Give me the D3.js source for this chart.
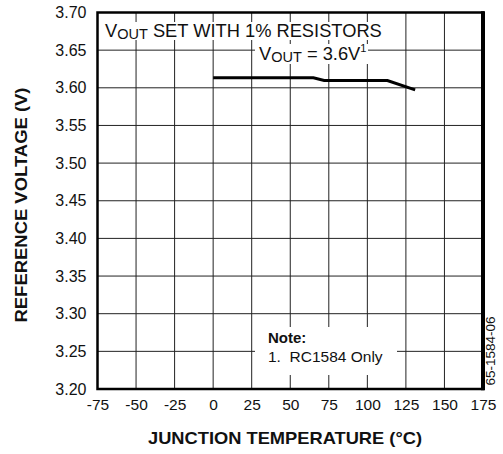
<!DOCTYPE html>
<html><head><meta charset="utf-8">
<script src="https://cdn.jsdelivr.net/npm/d3@7"></script>
<style>body{margin:0;background:#fff}svg{display:block;font-family:"Liberation Sans",Arial,sans-serif}</style>
</head><body><svg id="c" width="503" height="454"></svg>
<script>
const xTicks = [-75,-50,-25,0,25,50,75,100,125,150,175];
const yTicks = [3.20,3.25,3.30,3.35,3.40,3.45,3.50,3.55,3.60,3.65,3.70];
const temps = [0, 65, 72, 113, 131];
const volts = [3.6133, 3.6133, 3.6097, 3.6097, 3.5973];

const svg = d3.select("#c");
const L=97.5, R=483, T=12.5, B=389;
const x = d3.scaleLinear().domain([-75,175]).range([L,R]);
const y = d3.scaleLinear().domain([3.20,3.70]).range([B,T]);

// grid
svg.append("g").selectAll("line").data(xTicks.slice(1,-1)).join("line")
  .attr("x1",d=>x(d)).attr("x2",d=>x(d)).attr("y1",T).attr("y2",B)
  .attr("stroke","#222").attr("stroke-width",1);
svg.append("g").selectAll("line").data(yTicks.slice(1,-1)).join("line")
  .attr("y1",d=>y(d)).attr("y2",d=>y(d)).attr("x1",L).attr("x2",R)
  .attr("stroke","#222").attr("stroke-width",1);

// text backgrounds
svg.append("rect").attr("x",103).attr("y",22).attr("width",282).attr("height",18).attr("fill","#fff");
svg.append("rect").attr("x",255).attr("y",44).attr("width",113).attr("height",20).attr("fill","#fff");
svg.append("rect").attr("x",255).attr("y",327).attr("width",142).attr("height",48).attr("fill","#fff");

// data line
const line = d3.line().x((d,i)=>x(temps[i])).y(d=>y(d));
svg.append("path").datum(volts).attr("d",line).attr("fill","none")
  .attr("stroke","#000").attr("stroke-width",3);

// frame
svg.append("rect").attr("x",L).attr("y",T).attr("width",R-L).attr("height",B-T)
  .attr("fill","none").attr("stroke","#000").attr("stroke-width",2.5);
svg.append("line").attr("x1",R).attr("x2",R).attr("y1",T-1.2).attr("y2",B+1.2)
  .attr("stroke","#000").attr("stroke-width",4);

// axes labels
const fam = "Liberation Sans, Arial, sans-serif";
const xa = d3.axisBottom(x).tickValues(xTicks).tickSize(0).tickPadding(10).tickFormat(d=>String(d));
const gx = svg.append("g").attr("transform",`translate(0,${B})`).call(xa);
gx.select(".domain").remove();
gx.selectAll("text").attr("font-size",15.5).attr("fill","#111").attr("font-family",fam);
const ya = d3.axisLeft(y).tickValues(yTicks).tickSize(0).tickPadding(11).tickFormat(d3.format(".2f"));
const gy = svg.append("g").attr("transform",`translate(${L},0)`).call(ya);
gy.select(".domain").remove();
gy.selectAll("text").attr("font-size",16).attr("fill","#111").attr("font-family",fam);

// titles
svg.append("text").attr("x",285).attr("y",444).attr("text-anchor","middle")
  .attr("font-size",17).attr("font-weight","bold").attr("fill","#111")
  .attr("textLength",274).attr("lengthAdjust","spacingAndGlyphs")
  .text("JUNCTION TEMPERATURE (°C)");
svg.append("text").attr("transform","translate(27,205) rotate(-90)").attr("text-anchor","middle")
  .attr("font-size",17).attr("font-weight","bold").attr("fill","#111")
  .attr("textLength",235).attr("lengthAdjust","spacingAndGlyphs")
  .text("REFERENCE VOLTAGE (V)");

// annotations
const t1 = svg.append("text").attr("x",105).attr("y",37).attr("font-size",18.3).attr("fill","#111");
t1.append("tspan").text("V");
t1.append("tspan").attr("font-size",14.5).attr("dy",2).text("OUT");
t1.append("tspan").attr("dy",-2).text(" SET WITH 1% RESISTORS");
const t2 = svg.append("text").attr("x",259).attr("y",60).attr("font-size",18.3).attr("fill","#111");
t2.append("tspan").text("V");
t2.append("tspan").attr("font-size",14.5).attr("dy",2).text("OUT");
t2.append("tspan").attr("dy",-2).text(" = 3.6V");
t2.append("tspan").attr("font-size",11).attr("dy",-8).text("1");
svg.append("text").attr("x",268).attr("y",343).attr("font-size",15).attr("font-weight","bold").attr("fill","#111").text("Note:");
svg.append("text").attr("x",268).attr("y",362).attr("font-size",15.5).attr("fill","#111").attr("xml:space","preserve").text("1.  RC1584 Only");
svg.append("text").attr("transform","translate(495,351) rotate(-90)").attr("text-anchor","middle")
  .attr("font-size",13.5).attr("fill","#111").text("65-1584-06");
</script></body></html>
